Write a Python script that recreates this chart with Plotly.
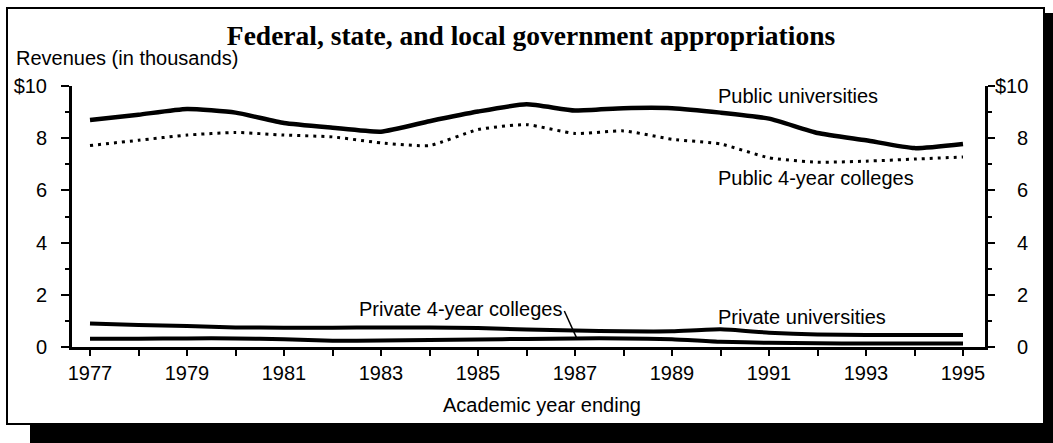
import plotly.graph_objects as go

years = list(range(1977, 1996))
public_universities = [8.7, 8.9, 9.12, 8.98, 8.58, 8.4, 8.25, 8.65, 9.02, 9.3, 9.06, 9.15, 9.15, 8.98, 8.75, 8.2, 7.92, 7.62, 7.78]
public_4yr = [7.72, 7.92, 8.12, 8.22, 8.12, 8.05, 7.82, 7.72, 8.33, 8.52, 8.18, 8.28, 7.96, 7.78, 7.25, 7.08, 7.12, 7.2, 7.28]
private_universities = [0.9, 0.84, 0.8, 0.75, 0.74, 0.74, 0.75, 0.75, 0.73, 0.67, 0.63, 0.6, 0.6, 0.68, 0.55, 0.48, 0.46, 0.46, 0.46]
private_4yr = [0.32, 0.32, 0.33, 0.33, 0.3, 0.24, 0.25, 0.27, 0.29, 0.31, 0.33, 0.33, 0.3, 0.2, 0.16, 0.14, 0.13, 0.13, 0.13]

y_tick_vals = [0, 2, 4, 6, 8, 10]
y_tick_text = ["0", "2", "4", "6", "8", "$10"]
x_tick_vals = list(range(1977, 1996, 2))
x_tick_text = [str(v) for v in x_tick_vals]

title_text = "Federal, state, and local government appropriations"
y_title = "Revenues (in thousands)"
x_title = "Academic year ending"

W, H = 1053, 443  # page size
L, R, T, B = 72, 985, 86, 347  # plot area pixel edges on the page


def px(x):
    return (x - L) / (R - L)


def py(y):
    return (B - y) / (B - T)


SANS = "Liberation Sans, Arial, sans-serif"
SERIF = "Liberation Serif, Times New Roman, serif"
FS = 20

fig = go.Figure()

fig.add_trace(go.Scatter(x=years, y=public_universities, mode="lines",
                         line=dict(color="black", width=4.5, shape="spline", smoothing=0.5),
                         hoverinfo="skip", showlegend=False))
fig.add_trace(go.Scatter(x=years, y=public_4yr, mode="lines",
                         line=dict(color="black", width=3, dash="3px,5px", shape="spline", smoothing=0.5),
                         hoverinfo="skip", showlegend=False))
fig.add_trace(go.Scatter(x=years, y=private_universities, mode="lines",
                         line=dict(color="black", width=4, shape="spline", smoothing=0.5),
                         hoverinfo="skip", showlegend=False))
fig.add_trace(go.Scatter(x=years, y=private_4yr, mode="lines",
                         line=dict(color="black", width=4, shape="spline", smoothing=0.5),
                         hoverinfo="skip", showlegend=False))
# invisible trace to activate the right axis
fig.add_trace(go.Scatter(x=years, y=public_universities, yaxis="y2", mode="lines",
                         line=dict(width=0), opacity=0, hoverinfo="skip", showlegend=False))

xr = [1977 - (90 - L) / 48.5, 1995 + (R - 963) / 48.5]

fig.update_layout(
    width=W, height=H,
    margin=dict(l=L, r=W - R, t=T, b=H - B, pad=0),
    paper_bgcolor="white", plot_bgcolor="white",
    font=dict(family=SANS, size=FS, color="black"),
    showlegend=False,
    title=dict(text="<b>" + title_text + "</b>", x=531 / W, xanchor="center",
               y=1 - 35 / H, yanchor="middle", xref="container", yref="container",
               font=dict(family=SERIF, size=27.5, color="black")),
    xaxis=dict(range=xr, showgrid=False, zeroline=False, showline=True, linecolor="black", linewidth=3,
               ticks="outside", ticklen=6, tickwidth=2, tickcolor="black",
               tickvals=x_tick_vals, ticktext=x_tick_text, ticklabelstandoff=0,
               minor=dict(tickvals=years, ticks="outside", ticklen=6, tickwidth=2, tickcolor="black"),
               tickfont=dict(family=SANS, size=FS)),
    yaxis=dict(range=[0, 10], showgrid=False, zeroline=False, showline=True, linecolor="black", linewidth=3,
               ticks="outside", ticklen=8, tickwidth=2, tickcolor="black",
               tickvals=y_tick_vals, ticktext=y_tick_text, ticklabelstandoff=10,
               minor=dict(dtick=1, ticks="outside", ticklen=4, tickwidth=2, tickcolor="black"),
               tickfont=dict(family=SANS, size=FS)),
    yaxis2=dict(range=[0, 10], overlaying="y", side="right", showgrid=False, zeroline=False,
                showline=True, linecolor="black", linewidth=3,
                ticks="outside", ticklen=7, tickwidth=2, tickcolor="black",
                tickvals=y_tick_vals, showticklabels=False,
                minor=dict(dtick=1, ticks="outside", ticklen=4, tickwidth=2, tickcolor="black")),
)

ann = []
# right axis labels, right-aligned
for v, t in zip(y_tick_vals, y_tick_text):
    ann.append(dict(x=px(1030), y=v, xref="paper", yref="y", text=t, showarrow=False,
                    xanchor="right", yanchor="middle", font=dict(family=SANS, size=FS)))
ann.append(dict(x=px(14), y=py(58), xref="paper", yref="paper", text=y_title, showarrow=False,
                xanchor="left", yanchor="middle", font=dict(family=SANS, size=FS)))
ann.append(dict(x=px(542), y=py(405), xref="paper", yref="paper", text=x_title, showarrow=False,
                xanchor="center", yanchor="middle", font=dict(family=SANS, size=FS)))
series_labels = [
    ("Public universities", 1989.9, 9.62),
    ("Public 4-year colleges", 1989.9, 6.47),
    ("Private 4-year colleges", 1982.5, 1.47),
    ("Private universities", 1989.9, 1.15),
]
for t, x, y in series_labels:
    ann.append(dict(x=x, y=y, xref="x", yref="y", text=t, showarrow=False,
                    xanchor="left", yanchor="middle", font=dict(family=SANS, size=FS)))
fig.update_layout(annotations=ann)

shapes = []
# leader line
shapes.append(dict(type="line", xref="x", yref="y", x0=1986.78, y0=1.38, x1=1987.03, y1=0.36,
                   line=dict(color="black", width=1.5)))
# frame box
shapes.append(dict(type="rect", xref="paper", yref="paper", x0=px(7), x1=px(1044), y0=py(8), y1=py(424),
                   line=dict(color="black", width=2), fillcolor="rgba(0,0,0,0)", layer="below"))
# drop shadow
shapes.append(dict(type="rect", xref="paper", yref="paper", x0=px(1045), x1=px(1060), y0=py(13), y1=py(450),
                   line=dict(width=0), fillcolor="black"))
shapes.append(dict(type="rect", xref="paper", yref="paper", x0=px(30), x1=px(1060), y0=py(425), y1=py(450),
                   line=dict(width=0), fillcolor="black"))
fig.update_layout(shapes=shapes)

fig.write_html("out.html",
               config={"displayModeBar": False},
               post_script="document.body.style.margin='0';document.body.style.overflow='hidden';")
